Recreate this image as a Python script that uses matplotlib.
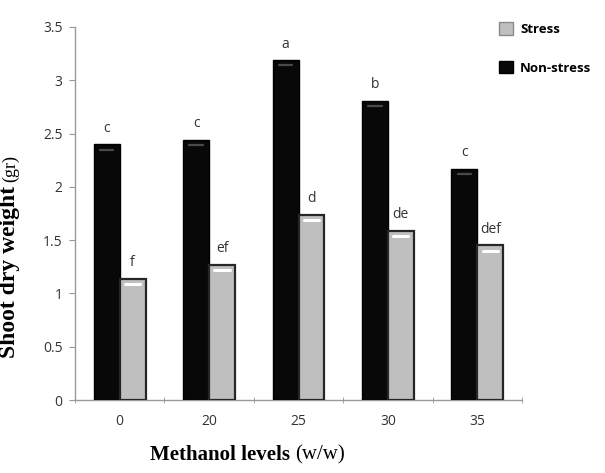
import matplotlib
matplotlib.use("Agg")
import matplotlib.pyplot as plt
import numpy as np
from matplotlib.patches import Patch

categories = ["0", "20", "25", "30", "35"]
non_stress = [2.40, 2.44, 3.19, 2.81, 2.17]
stress = [1.14, 1.27, 1.74, 1.59, 1.45]
non_stress_letters = ["c", "c", "a", "b", "c"]
stress_letters = ["f", "ef", "d", "de", "def"]
yticks = [0, 0.5, 1, 1.5, 2, 2.5, 3, 3.5]
ytick_labels = ["0", "0.5", "1", "1.5", "2", "2.5", "3", "3.5"]

plt.rcParams['font.family'] = ['Open Sans', 'DejaVu Sans']

fig = plt.figure(figsize=(6.05, 4.73), dpi=100)
ax = fig.add_axes([75/605, 1-400/473, (522-75)/605, (400-27)/473])

x = np.arange(len(categories))
w = 0.29
c_ns = x - w/2
c_s = x + w/2
ax.bar(c_ns, non_stress, width=w, color="#080808", edgecolor="#000000", linewidth=1.0, zorder=3)
ax.bar(c_s, stress, width=w, color="#bfbfbf", edgecolor="#262626", linewidth=1.6, zorder=3)

# subtle highlight near bar tops
for ci, v in zip(c_ns, non_stress):
    ax.plot([ci - w/2 + 0.07, ci + w/2 - 0.07], [v - 0.05, v - 0.05], color="#4a4a4a", lw=1.6,
            solid_capstyle="round", zorder=4)
for ci, v in zip(c_s, stress):
    ax.plot([ci - w/2 + 0.06, ci + w/2 - 0.06], [v - 0.05, v - 0.05], color="#ffffff", lw=2.2,
            solid_capstyle="round", zorder=4)

for ci, v, t in zip(c_ns, non_stress, non_stress_letters):
    ax.text(ci, v + 0.08, t, ha="center", va="bottom", fontsize=10, color="#333333")
for ci, v, t in zip(c_s, stress, stress_letters):
    ax.text(ci, v + 0.08, t, ha="center", va="bottom", fontsize=10, color="#333333")

ax.set_xlim(-0.5, len(categories) - 0.5)
ax.set_ylim(0, 3.5)
ax.set_yticks(yticks)
ax.set_yticklabels(ytick_labels)
ax.set_xticks(x)
ax.set_xticklabels(categories)
ax.set_xticks(np.arange(-0.5, len(categories)), minor=True)
ax.tick_params(axis="x", which="major", length=0, pad=10, labelsize=10, labelcolor="#333333")
ax.tick_params(axis="x", which="minor", length=5, direction="inout", color="#999999")
ax.tick_params(axis="y", length=4, color="#999999", labelsize=10, labelcolor="#333333", pad=5)
for s in ["top", "right"]:
    ax.spines[s].set_visible(False)
for s in ["left", "bottom"]:
    ax.spines[s].set_color("#999999")
    ax.spines[s].set_linewidth(1.0)

fig.text(290/605, 0.028, "Methanol levels", fontsize=15, fontweight="bold", family="Liberation Serif",
         ha="right", va="baseline")
fig.text(295/605, 0.028, "(w/w)", fontsize=15, family="Liberation Serif", ha="left", va="baseline")

fig.text(15/605, 1-272/473, "Shoot dry weight", fontsize=17, fontweight="bold", family="Liberation Serif",
         rotation=90, rotation_mode="anchor", ha="center", va="baseline")
fig.text(15/605, 1-168/473, "(gr)", fontsize=13, family="Liberation Serif",
         rotation=90, rotation_mode="anchor", ha="center", va="baseline")

handles = [Patch(facecolor="#bfbfbf", edgecolor="#8a8a8a"), Patch(facecolor="#080808", edgecolor="#000000")]
fig.legend(handles, ["Stress", "Non-stress"], loc="upper left", bbox_to_anchor=(487/605, 1-10/473),
           frameon=False, labelspacing=1.9, handlelength=1.1, handleheight=1.1, handletextpad=0.5,
           prop={"weight": "bold", "size": 9.5})

fig.savefig("out.png", dpi=100)
